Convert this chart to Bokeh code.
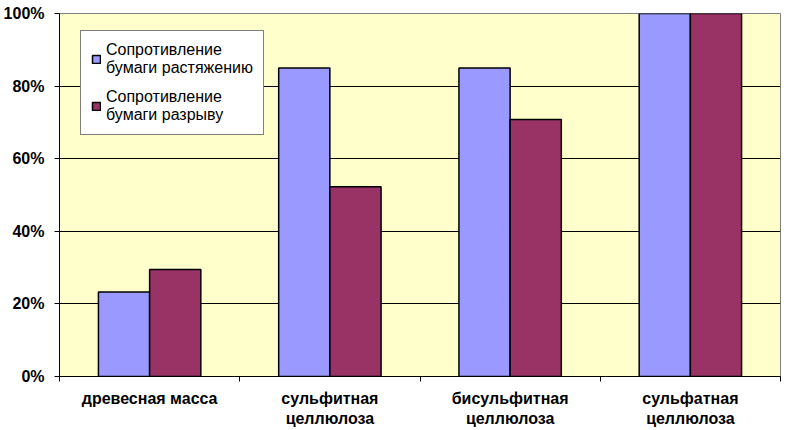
import numpy as np
from bokeh.plotting import figure
from bokeh.models import (ColumnDataSource, FixedTicker, NumeralTickFormatter, Range1d,
                          Legend, LegendItem)
from bokeh.embed import file_html
from bokeh.resources import INLINE

categories = ["древесная масса", "сульфитная\nцеллюлоза", "бисульфитная\nцеллюлоза", "сульфатная\nцеллюлоза"]
series_names = ["Сопротивление\nбумаги растяжению", "Сопротивление\nбумаги разрыву"]
tensile = [0.233, 0.85, 0.85, 1.0]
tear = [0.295, 0.523, 0.708, 1.0]
y_ticks = [0, 0.2, 0.4, 0.6, 0.8, 1.0]

FONT = "Liberation Sans"
idx = np.arange(len(categories))
bw = 0.284
src = ColumnDataSource(dict(
    xa=idx + 0.5 - bw / 2, xb=idx + 0.5 + bw / 2, a=tensile, b=tear,
))

p = figure(frame_width=721, frame_height=363, output_backend="svg", toolbar_location=None,
           x_range=Range1d(0, len(categories)), y_range=Range1d(0, 1),
           min_border_left=49, min_border_right=2, min_border_top=13, min_border_bottom=0)
p.background_fill_color = "#FFFFCC"
p.border_fill_color = "white"
p.outline_line_color = "#808080"
p.outline_line_width = 1

r1 = p.vbar(x="xa", top="a", width=bw, source=src, fill_color="#9999FF", line_color="black", line_width=1.5)
r2 = p.vbar(x="xb", top="b", width=bw, source=src, fill_color="#993366", line_color="black", line_width=1.5)

# y axis
p.yaxis.ticker = FixedTicker(ticks=y_ticks)
p.yaxis.formatter = NumeralTickFormatter(format="0%")
p.yaxis.major_label_text_font = FONT
p.yaxis.major_label_text_font_style = "bold"
p.yaxis.major_label_text_font_size = "16px"
p.yaxis.major_label_text_color = "black"
p.yaxis.major_tick_in = 0
p.yaxis.major_tick_out = 5
p.yaxis.minor_tick_line_color = None
p.yaxis.axis_line_color = "black"
p.yaxis.major_tick_line_color = "black"
p.yaxis.major_label_standoff = 10

# x axis
p.xaxis.ticker = FixedTicker(ticks=list(idx + 0.5), minor_ticks=list(range(len(categories) + 1)))
p.xaxis.major_label_overrides = {float(i + 0.5): c for i, c in enumerate(categories)}
p.xaxis.major_tick_line_color = None
p.xaxis.major_tick_out = 0
p.xaxis.major_tick_in = 0
p.xaxis.minor_tick_in = 0
p.xaxis.minor_tick_out = 5
p.xaxis.minor_tick_line_color = "black"
p.xaxis.axis_line_color = "black"
p.xaxis.major_label_text_font = FONT
p.xaxis.major_label_text_font_style = "bold"
p.xaxis.major_label_text_font_size = "16px"
p.xaxis.major_label_text_color = "black"
p.xaxis.major_label_standoff = 8

p.xgrid.grid_line_color = None
p.ygrid.ticker = FixedTicker(ticks=y_ticks[1:-1])
p.ygrid.grid_line_color = "black"
p.ygrid.grid_line_width = 1

legend = Legend(items=[LegendItem(label=series_names[0], renderers=[r1]),
                       LegendItem(label=series_names[1], renderers=[r2])],
                location=(21, 241))
legend.border_line_color = "black"
legend.border_line_width = 1
legend.background_fill_color = "white"
legend.background_fill_alpha = 1
legend.label_text_font = FONT
legend.label_text_font_size = "16px"
legend.label_text_color = "black"
legend.glyph_width = 10
legend.glyph_height = 10
legend.label_standoff = 5
legend.spacing = 11
legend.padding = 10
legend.margin = 0
p.add_layout(legend)

open("out.html", "w").write(file_html(p, INLINE))
